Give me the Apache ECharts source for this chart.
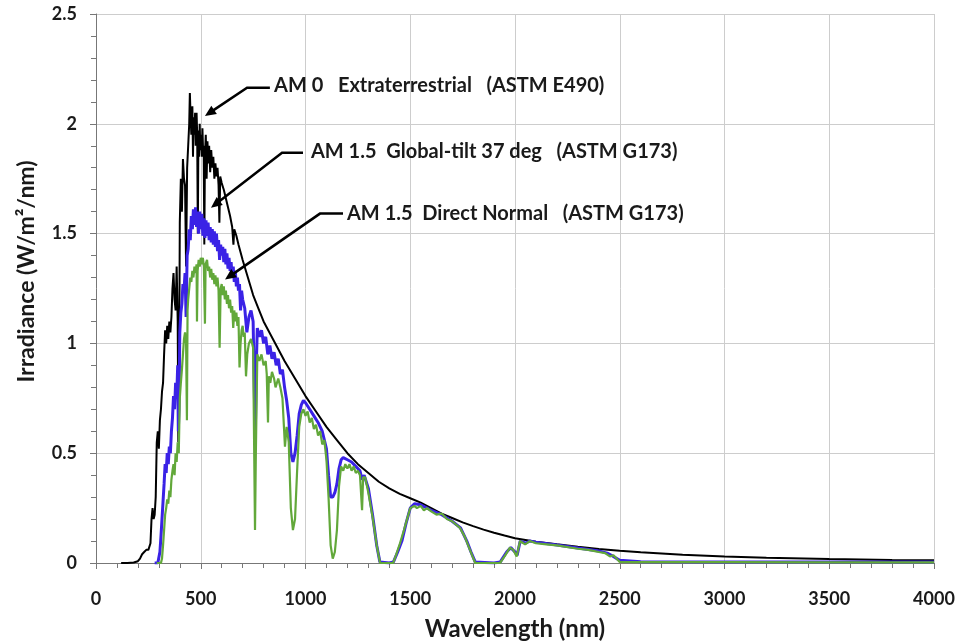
<!DOCTYPE html>
<html lang="en">
<head>
    <meta charset="UTF-8">
    <script src="https://cdn.jsdelivr.net/npm/echarts@6/dist/echarts.min.js"></script>
    <style>
        body { margin: 0; background: #fff; }
        #main { width: 959px; height: 644px; }
    </style>
</head>
<body>
    <div id="main"></div>
    <script>
        // AM 0 extraterrestrial (ASTM E490)
        var am0Wl = [120, 150, 180, 200, 210, 220, 230, 240, 250, 260, 265, 270, 275, 280, 285, 290, 295, 300,
            305, 310, 315, 320, 325, 330, 335, 340, 345, 350, 355, 360, 365, 370, 375, 380, 385, 390, 393, 396,
            400, 405, 410, 415, 420, 425, 430, 435, 440, 445, 448, 451, 455, 460, 463, 466, 470, 473, 476, 480,
            483, 486, 489, 492, 495, 498, 501, 505, 508, 511, 514, 517, 520, 524, 528, 532, 536, 540, 545, 550,
            555, 560, 565, 570, 575, 580, 585, 589, 593, 600, 610, 620, 630, 640, 650, 656, 660, 670, 680, 700,
            725, 750, 775, 800, 850, 900, 950, 1000, 1050, 1100, 1150, 1200, 1250, 1300, 1350, 1400, 1450, 1500,
            1550, 1600, 1650, 1700, 1750, 1800, 1850, 1900, 1950, 2000, 2100, 2200, 2300, 2400, 2500, 2600, 2800,
            3000, 3200, 3500, 3800, 4000];
        var am0Val = [0, 0, 0.002, 0.008, 0.02, 0.04, 0.05, 0.06, 0.06, 0.09, 0.2, 0.25, 0.2, 0.22, 0.3, 0.55, 0.6, 0.52,
            0.65, 0.7, 0.78, 0.82, 0.95, 1.06, 1.0, 1.08, 1.02, 1.1, 1.05, 1.12, 1.25, 1.32, 1.2, 1.15, 1.35, 1.1, 0.55, 0.7,
            1.55, 1.75, 1.6, 1.84, 1.75, 1.72, 1.35, 1.8, 1.9, 2.0, 2.14, 2.05, 1.95, 2.08, 1.85, 2.03, 1.95, 2.05, 1.9, 2.05,
            1.95, 1.5, 1.97, 1.85, 2.0, 1.88, 1.95, 1.85, 1.98, 1.88, 1.9, 1.45, 1.85, 1.95, 1.75, 1.92, 1.82, 1.9, 1.78, 1.88,
            1.8, 1.85, 1.75, 1.82, 1.76, 1.8, 1.72, 1.55, 1.76, 1.73, 1.7, 1.66, 1.62, 1.58, 1.53, 1.45, 1.52, 1.49, 1.45, 1.38,
            1.3, 1.22, 1.16, 1.1, 1.01, 0.92, 0.84, 0.76, 0.69, 0.62, 0.56, 0.5, 0.45, 0.41, 0.37, 0.34, 0.315, 0.295,
            0.275, 0.25, 0.225, 0.205, 0.185, 0.168, 0.152, 0.138, 0.125, 0.113, 0.097, 0.085, 0.074, 0.064, 0.056, 0.049, 0.038,
            0.03, 0.024, 0.018, 0.014, 0.012];

        // AM 1.5 global-tilt 37 deg (ASTM G173)
        var globWl = [280, 295, 300, 305, 310, 315, 320, 325, 330, 335, 340, 345, 350, 355, 360, 365, 370, 375, 380,
            385, 390, 393, 396, 400, 405, 410, 415, 420, 425, 430, 435, 440, 445, 450, 455, 460, 465, 470, 475, 480,
            485, 490, 495, 500, 505, 510, 515, 520, 525, 530, 535, 540, 545, 550, 555, 560, 565, 570, 575, 580, 585,
            590, 595, 600, 605, 610, 615, 620, 625, 630, 635, 640, 645, 650, 655, 660, 665, 670, 675, 680, 685, 690,
            695, 700, 710, 720, 730, 740, 750, 760, 765, 770, 780, 790, 800, 810, 820, 830, 840, 850, 860, 870, 880,
            890, 900, 910, 920, 930, 940, 950, 960, 970, 980, 990, 1000, 1020, 1040, 1060, 1080, 1100, 1110,
            1120, 1130, 1140, 1150, 1160, 1170, 1180, 1200, 1220, 1240, 1260, 1270, 1280, 1300, 1320, 1340, 1355,
            1400, 1420, 1440, 1460, 1480, 1500, 1520, 1550, 1600, 1650, 1700, 1740, 1770, 1790, 1810, 1900, 1930,
            1960, 1980, 2000, 2010, 2025, 2050, 2070, 2100, 2200, 2300, 2400, 2440, 2460, 2500, 2600, 3000, 3500, 4000];
        var globVal = [0, 0, 0.005, 0.05, 0.12, 0.2, 0.28, 0.36, 0.45, 0.41, 0.5, 0.45, 0.53, 0.5, 0.6, 0.66, 0.76, 0.7, 0.82,
            0.75, 0.9, 0.6, 0.7, 1.05, 1.14, 1.18, 1.27, 1.24, 1.32, 1.12, 1.4, 1.43, 1.52, 1.47, 1.58, 1.52, 1.61, 1.54, 1.62, 1.53,
            1.6, 1.5, 1.6, 1.52, 1.59, 1.49, 1.57, 1.48, 1.56, 1.49, 1.55, 1.47, 1.53, 1.46, 1.52, 1.45, 1.51, 1.44, 1.5, 1.42, 1.47,
            1.38, 1.45, 1.4, 1.44, 1.37, 1.43, 1.36, 1.41, 1.34, 1.39, 1.33, 1.37, 1.3, 1.35, 1.28, 1.33, 1.26, 1.3, 1.24, 1.27, 1.15,
            1.24, 1.2, 1.16, 1.05, 1.12, 1.15, 1.1, 0.55, 0.9, 1.07, 1.03, 1.06, 1.0, 1.03, 0.95, 0.99, 0.93, 0.96, 0.9, 0.93, 0.86,
            0.88, 0.8, 0.74, 0.66, 0.5, 0.46, 0.5, 0.58, 0.68, 0.72, 0.74, 0.73, 0.7, 0.67, 0.64, 0.6, 0.52, 0.4,
            0.3, 0.3, 0.32, 0.36, 0.43, 0.47, 0.48, 0.47, 0.46, 0.44, 0.42, 0.38, 0.4, 0.34, 0.22, 0.08, 0.005,
            0, 0.005, 0.05, 0.1, 0.18, 0.25, 0.27, 0.265, 0.24, 0.22, 0.19, 0.16, 0.1, 0.05, 0.005, 0, 0.005,
            0.05, 0.07, 0.05, 0.035, 0.1, 0.09, 0.1, 0.095, 0.082, 0.068, 0.055, 0.045, 0.035, 0.012, 0.006, 0.005, 0.004, 0.004];

        // AM 1.5 direct normal (ASTM G173)
        var directWl = [290, 310, 315, 320, 325, 330, 335, 340, 345, 350, 355, 360, 365, 370, 375, 380, 385, 390, 395,
            400, 405, 410, 415, 420, 425, 430, 434, 437, 440, 445, 450, 455, 460, 465, 470, 475, 480, 482, 485, 490,
            495, 500, 505, 510, 515, 520, 523, 530, 535, 540, 545, 550, 555, 560, 565, 570, 575, 580, 585, 590, 595,
            600, 605, 610, 615, 620, 625, 630, 635, 640, 645, 650, 655, 660, 665, 670, 675, 680, 685, 690, 695, 700,
            705, 710, 716, 722, 730, 740, 750, 759, 763, 770, 780, 790, 800, 810, 815, 821, 825, 832, 840, 850, 857,
            864, 870, 880, 890, 902, 910, 920, 930, 940, 950, 960, 970, 980, 990, 1000, 1010, 1020, 1030,
            1040, 1050, 1060, 1070, 1080, 1090, 1100, 1110, 1120, 1130, 1140, 1150, 1160, 1170, 1180, 1190, 1200, 1210, 1220,
            1230, 1240, 1250, 1260, 1270, 1275, 1285, 1300, 1320, 1340, 1356, 1418, 1430, 1451, 1470, 1485, 1500, 1520,
            1532, 1550, 1565, 1580, 1600, 1625, 1650, 1675, 1700, 1737, 1760, 1785, 1810, 1928, 1950, 1976, 1991, 2008,
            2024, 2048, 2071, 2100, 2150, 2200, 2300, 2350, 2400, 2430, 2453, 2470, 2490, 2500, 2600, 3000, 3500, 4000];
        var directVal = [0, 0, 0.02, 0.08, 0.15, 0.22, 0.25, 0.29, 0.27, 0.33, 0.3, 0.38, 0.42, 0.45, 0.4, 0.5, 0.46, 0.55, 0.5,
            0.75, 0.82, 0.88, 0.95, 1.02, 1.05, 1.0, 0.65, 1.15, 1.2, 1.25, 1.3, 1.28, 1.33, 1.3, 1.35, 1.32, 1.36, 1.1, 1.33, 1.38,
            1.35, 1.39, 1.36, 1.39, 1.35, 1.09, 1.36, 1.38, 1.33, 1.35, 1.3, 1.34, 1.29, 1.32, 1.27, 1.31, 1.26, 1.3, 1.24, 0.98, 1.25,
            1.27, 1.22, 1.26, 1.2, 1.24, 1.18, 1.22, 1.16, 1.2, 1.14, 1.17, 1.07, 1.15, 1.1, 1.14, 1.08, 1.12, 0.89, 1.0, 1.06, 1.08,
            1.03, 1.05, 0.85, 0.95, 1.0, 1.02, 0.98, 0.15, 0.5, 0.95, 0.92, 0.95, 0.9, 0.92, 0.86, 0.64, 0.85, 0.82, 0.87, 0.84, 0.8,
            0.8, 0.84, 0.8, 0.75, 0.53, 0.62, 0.55, 0.25, 0.15, 0.2, 0.42, 0.62, 0.68, 0.7, 0.67, 0.69, 0.64, 0.66,
            0.61, 0.63, 0.58, 0.6, 0.54, 0.56, 0.47, 0.3, 0.08, 0.02, 0.05, 0.15, 0.35, 0.44, 0.42, 0.45, 0.43, 0.45, 0.42,
            0.44, 0.41, 0.42, 0.4, 0.24, 0.39, 0.39, 0.32, 0.21, 0.08, 0, 0, 0.03, 0.09, 0.15, 0.2, 0.25, 0.26,
            0.25, 0.26, 0.24, 0.25, 0.235, 0.22, 0.225, 0.2, 0.19, 0.16, 0.12, 0.06, 0, 0, 0.03, 0.07, 0.06, 0.03,
            0.1, 0.085, 0.1, 0.09, 0.085, 0.08, 0.065, 0.06, 0.05, 0.045, 0.03, 0.035, 0.015, 0.005, 0.004, 0.004, 0.003, 0.003];

        var xTicks = { min: 0, max: 4000, step: 500 };
        var yTicks = { min: 0, max: 2.5, step: 0.5 };

        // callouts, anchored in data units: text start, elbow start, elbow, arrow tip
        var notes = [
            { text: 'AM 0   Extraterrestrial   (ASTM E490)', label: [850, 2.173], start: [830, 2.164], bend: [721, 2.164], tip: [520, 2.036] },
            { text: 'AM 1.5  Global-tilt 37 deg   (ASTM G173)', label: [1026, 1.873], start: [988, 1.868], bend: [888, 1.868], tip: [549, 1.618] },
            { text: 'AM 1.5  Direct Normal   (ASTM G173)', label: [1198, 1.591], start: [1179, 1.591], bend: [1069, 1.591], tip: [616, 1.291] }
        ];

        function pairs(xs, ys) {
            return xs.map(function (x, i) { return [x, ys[i]]; });
        }

        var FONT = 'Lato';
        var AXIS_GREY = '#777';
        var dom = document.getElementById('main');
        var chart = echarts.init(dom);

        function axisBits() {
            return {
                axisLine: { show: true, onZero: false, lineStyle: { color: AXIS_GREY, width: 1 } },
                axisTick: { show: true, inside: false, length: 6, lineStyle: { color: AXIS_GREY, width: 1 } },
                minorTick: { show: true, splitNumber: 5, length: 5, lineStyle: { color: AXIS_GREY, width: 1 } },
                splitLine: { show: true, lineStyle: { color: '#cdcdcd', width: 1 } }
            };
        }

        var xAxis = Object.assign(axisBits(), {
            type: 'value',
            min: xTicks.min, max: xTicks.max, interval: xTicks.step,
            name: 'Wavelength (nm)',
            nameLocation: 'middle',
            nameGap: 54,
            nameTextStyle: { fontFamily: FONT, fontWeight: 'bold', fontSize: 24, color: '#1a1a1a' },
            axisLabel: {
                margin: 27, fontFamily: FONT, fontWeight: 'bold', fontSize: 18, color: '#1a1a1a',
                formatter: function (v) { return String(v); }
            }
        });
        var yAxis = Object.assign(axisBits(), {
            type: 'value',
            min: yTicks.min, max: yTicks.max, interval: yTicks.step,
            name: 'Irradiance (W/m\u00B2/nm)',
            nameLocation: 'middle',
            nameGap: 58,
            nameTextStyle: { fontFamily: FONT, fontWeight: 'bold', fontSize: 23, color: '#1a1a1a', padding: [0, 0, 0, 34] },
            axisLabel: { margin: 19, fontFamily: FONT, fontWeight: 'bold', fontSize: 18, color: '#1a1a1a' }
        });

        chart.setOption({
            animation: false,
            backgroundColor: '#fff',
            grid: { left: 96, right: 25, top: 14, bottom: 81, containLabel: false, outerBoundsMode: 'none' },
            xAxis: xAxis,
            yAxis: yAxis,
            series: [
                {
                    name: 'AM 0', type: 'line', showSymbol: false, symbol: 'none',
                    data: pairs(am0Wl, am0Val),
                    lineStyle: { color: '#000', width: 2 }
                },
                {
                    name: 'AM 1.5 Global', type: 'line', showSymbol: false, symbol: 'none',
                    data: pairs(globWl, globVal),
                    lineStyle: { color: '#3a22e6', width: 3 }
                },
                {
                    name: 'AM 1.5 Direct', type: 'line', showSymbol: false, symbol: 'none',
                    data: pairs(directWl, directVal),
                    lineStyle: { color: '#62a83a', width: 2.2 }
                }
            ]
        });

        // callout arrows and labels placed through the axes
        var graphics = [];
        notes.forEach(function (n) {
            var p = function (d) { return chart.convertToPixel({ gridIndex: 0 }, d); };
            var s = p(n.start), b = p(n.bend), t = p(n.tip), l = p(n.label);
            var dx = t[0] - b[0], dy = t[1] - b[1];
            var len = Math.sqrt(dx * dx + dy * dy);
            var ux = dx / len, uy = dy / len;
            var L = 11, W = 5;
            var base = [t[0] - ux * L, t[1] - uy * L];
            graphics.push({
                type: 'polyline',
                shape: { points: [s, b, [t[0] - ux * L * 0.7, t[1] - uy * L * 0.7]] },
                style: { stroke: '#000', lineWidth: 2.5, fill: null },
                z: 100
            });
            graphics.push({
                type: 'polygon',
                shape: { points: [t, [base[0] - uy * W, base[1] + ux * W], [base[0] + uy * W, base[1] - ux * W]] },
                style: { fill: '#000' },
                z: 100
            });
            graphics.push({
                type: 'text',
                x: l[0], y: l[1],
                style: {
                    text: n.text,
                    font: 'bold 20px ' + FONT,
                    fill: '#1a1a1a',
                    align: 'left',
                    verticalAlign: 'middle'
                },
                z: 100
            });
        });
        chart.setOption({ graphic: graphics });
    </script>
</body>
</html>
